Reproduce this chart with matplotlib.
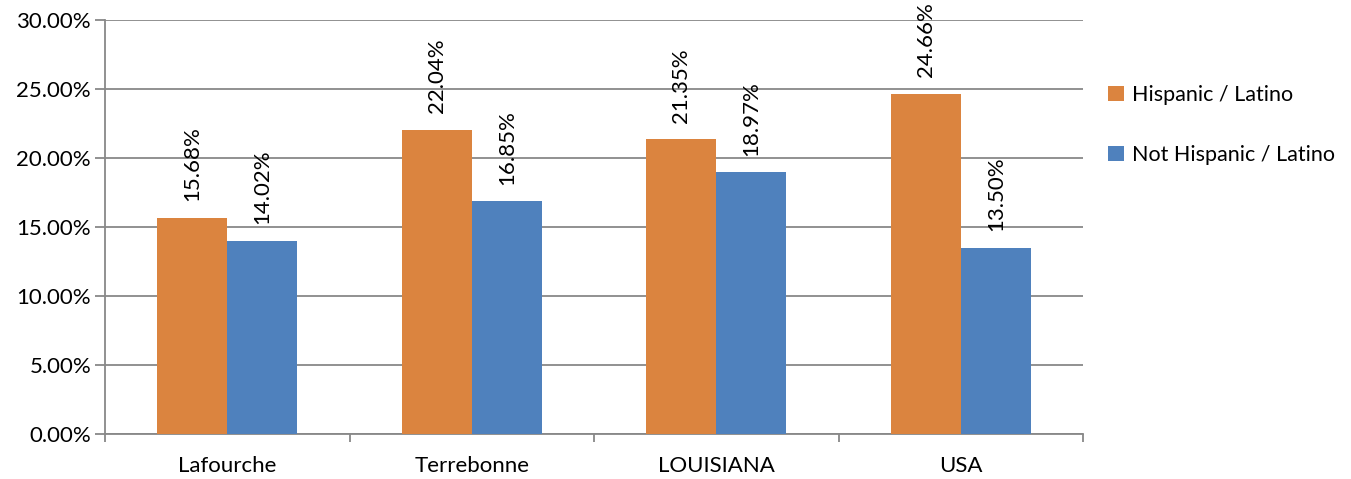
import matplotlib.pyplot as plt
import numpy as np

# Data
regions = ["Lafourche", "Terrebonne", "LOUISIANA", "USA"]
hispanic = [15.68, 22.04, 21.35, 24.66]
not_hispanic = [14.02, 16.85, 18.97, 13.50]

plt.rcParams['font.family'] = ['Lato', 'DejaVu Sans']
FS = 16

fig = plt.figure(figsize=(13.51, 4.79), dpi=100)
ax = fig.add_axes([105 / 1351, 1 - 434 / 479, (1083 - 105) / 1351, (434 - 20) / 479])

x = np.arange(len(regions))
w = 0.286
b1 = ax.bar(x - w / 2, hispanic, w, color='#DB843F', label='Hispanic / Latino', zorder=3)
b2 = ax.bar(x + w / 2, not_hispanic, w, color='#4F81BD', label='Not Hispanic / Latino', zorder=3)

# rotated value labels above bars
for bars, vals in [(b1, hispanic), (b2, not_hispanic)]:
    for rect, v in zip(bars, vals):
        ax.text(rect.get_x() + rect.get_width() / 2, v + 1.2, f"{v:.2f}%",
                rotation=90, ha='center', va='bottom', fontsize=FS, zorder=4,
                clip_on=False)

ax.set_xlim(-0.5, len(regions) - 0.5)
ax.set_ylim(0, 30)
ax.set_yticks(range(0, 31, 5))
ax.set_yticklabels([f"{t:.2f}%" for t in range(0, 31, 5)], fontsize=FS)
ax.set_xticks(x)
ax.set_xticklabels(regions, fontsize=FS)
ax.set_xticks(np.arange(-0.5, len(regions), 1), minor=True)
ax.tick_params(axis='x', which='major', length=0, pad=16)
ax.tick_params(axis='x', which='minor', length=6, color='#888888', width=1.3)
ax.tick_params(axis='y', length=7, color='#888888', width=1.3, pad=3)

ax.yaxis.grid(True, color='#888888', linewidth=1.3, zorder=0)
for s in ['top', 'right']:
    ax.spines[s].set_visible(False)
for s in ['left', 'bottom']:
    ax.spines[s].set_color('#888888')
    ax.spines[s].set_linewidth(1.3)

leg = ax.legend(loc='upper left', bbox_to_anchor=(1.015, 0.87), frameon=False,
                fontsize=15.5, handlelength=0.7, handleheight=0.7, handletextpad=0.4,
                labelspacing=1.9, borderpad=0)

fig.savefig('out.png', dpi=100)
